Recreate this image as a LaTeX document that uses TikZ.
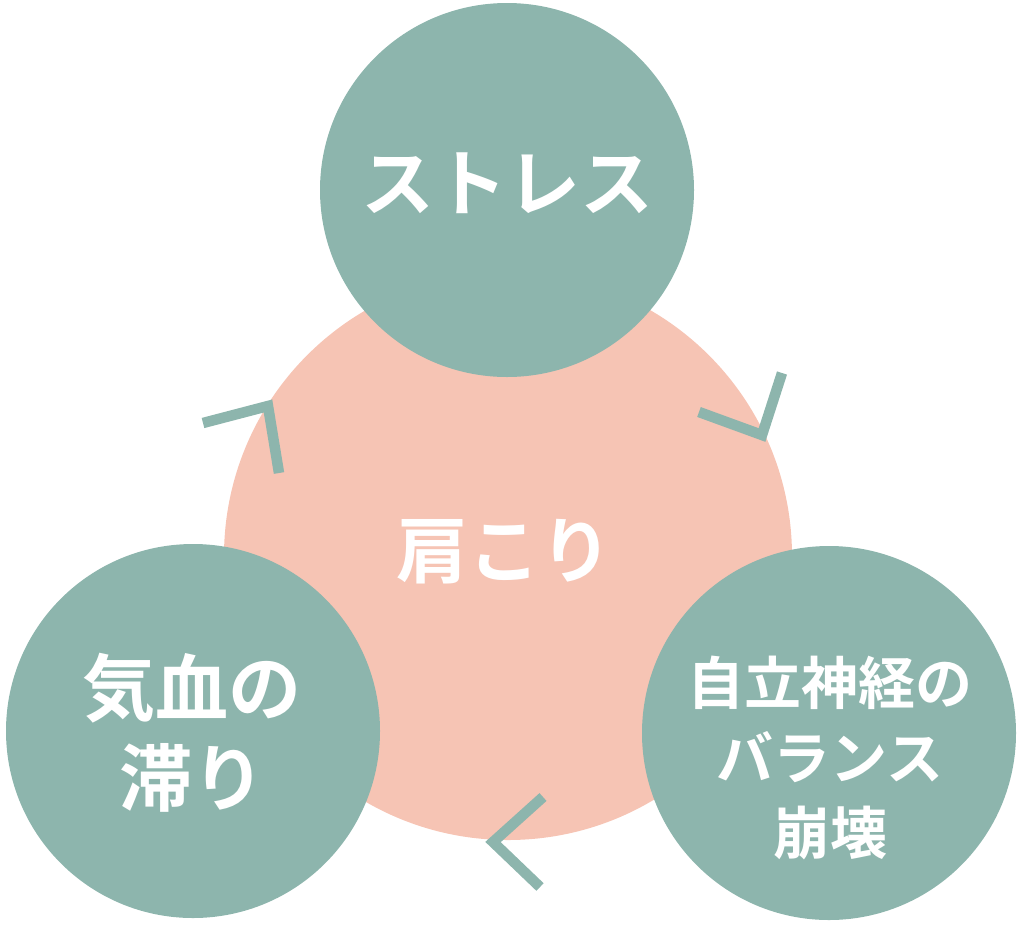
\documentclass[tikz,border=0pt]{standalone}
\usepackage{fontspec}
\newfontfamily\cjk{Noto Sans CJK JP}[BoldFont={Noto Sans CJK JP Bold}]
\definecolor{sage}{HTML}{8DB5AD}
\definecolor{peach}{HTML}{F6C4B4}
\begin{document}
\begin{tikzpicture}[x=1pt,y=-1pt,
  bubble/.style={circle,fill=sage,minimum size=374pt,inner sep=0pt},
  core/.style={circle,fill=peach,minimum size=568pt,inner sep=0pt},
  lbl/.style={text=white,font=\cjk\bfseries,align=center},
  chev/.style={draw=sage,line width=10.5pt}]
\useasboundingbox (0,0) rectangle (1024,924);
\node[core] (kata) at (508,556) {};
\node[bubble] (stress) at (507,190) {};
\node[bubble] (kiketsu) at (193,731) {};
\node[bubble] (jiritsu) at (829,733) {};
\node[lbl,font=\cjk\bfseries\fontsize{73}{90}\selectfont] at (507,183) {ストレス};
\node[lbl,font=\cjk\bfseries\fontsize{72}{90}\selectfont] at (504,552) {肩こり};
\node[lbl,font=\cjk\bfseries\fontsize{73}{90}\selectfont] at (192,733) {気血の\\滞り};
\node[lbl,font=\cjk\bfseries\fontsize{57}{75}\selectfont] at (830,758) {自立神経の\\バランス\\崩壊};
\coordinate (a1) at (203,423); \coordinate (a2) at (268,406); \coordinate (a3) at (279,473);
\coordinate (b1) at (699,412); \coordinate (b2) at (762,435); \coordinate (b3) at (782,373);
\coordinate (c1) at (543,797); \coordinate (c2) at (493,842); \coordinate (c3) at (540,887);
\draw[chev] (a1) -- (a2) -- (a3);
\draw[chev] (b1) -- (b2) -- (b3);
\draw[chev] (c1) -- (c2) -- (c3);
\end{tikzpicture}
\end{document}
